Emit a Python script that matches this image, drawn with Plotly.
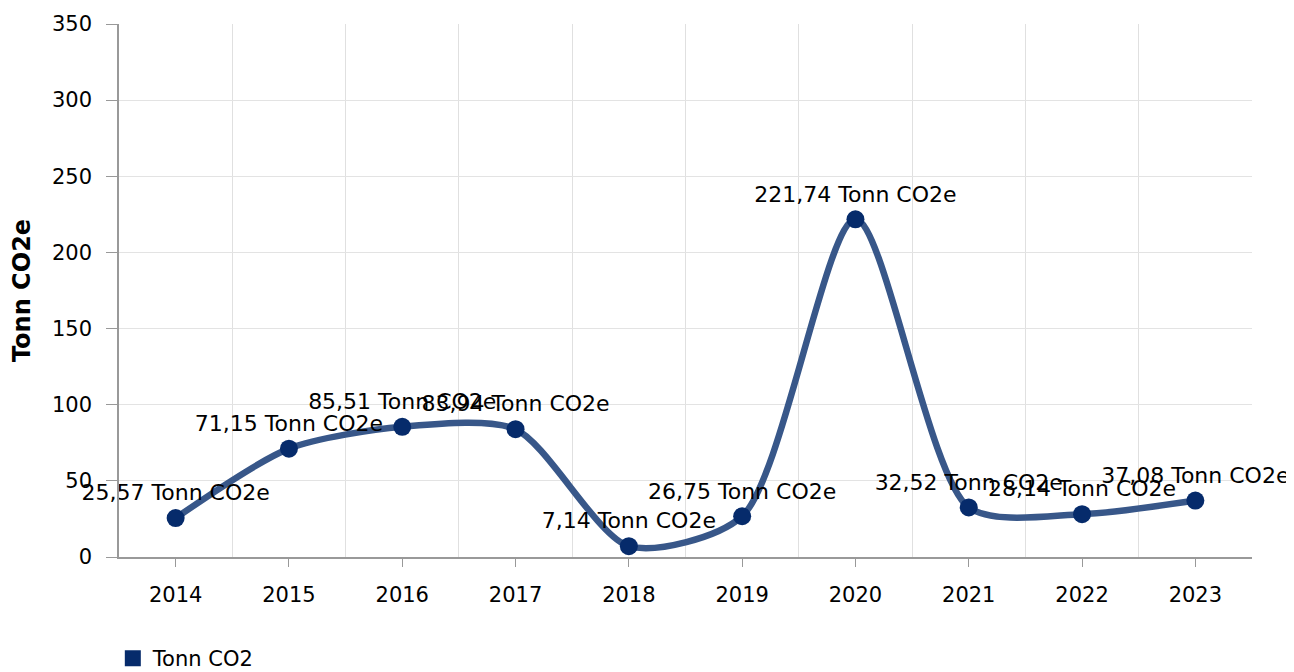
import plotly.graph_objects as go

years = [2014, 2015, 2016, 2017, 2018, 2019, 2020, 2021, 2022, 2023]
co2 = [25.57, 71.15, 85.51, 83.94, 7.14, 26.75, 221.74, 32.52, 28.14, 37.08]
unit = "Tonn CO2e"
legend_name = "Tonn CO2"

labels = [f"{v:.2f}".replace(".", ",") + " " + unit for v in co2]

font = "DejaVu Sans, Verdana, sans-serif"
line_color = "#385789"
marker_color = "#062b6b"

fig = go.Figure()

fig.add_trace(go.Scatter(
    x=years,
    y=co2,
    mode="lines+markers+text",
    line=dict(color=line_color, width=6.5, shape="spline", smoothing=0.75),
    marker=dict(color=marker_color, size=18),
    text=labels,
    textposition="top center",
    textfont=dict(family=font, size=22, color="#000"),
    cliponaxis=False,
    showlegend=False,
    hoverinfo="x+y",
))

# legend swatch only
fig.add_trace(go.Scatter(
    x=[None], y=[None],
    mode="markers",
    marker=dict(symbol="square", color=marker_color, size=16),
    name=legend_name,
))

# page body adds an 8px offset, margins compensate for it
fig.update_layout(
    width=1294,
    height=672,
    margin=dict(l=111, r=50, t=16, b=123),
    plot_bgcolor="white",
    paper_bgcolor="white",
    font=dict(family=font, size=21, color="#000"),
    showlegend=True,
    legend=dict(
        orientation="h",
        xref="container", yref="container",
        x=0.081, y=0.032,
        xanchor="left", yanchor="middle",
        font=dict(family=font, size=21, color="#000"),
    ),
)

fig.update_xaxes(
    automargin=False,
    range=[2013.5, 2023.5],
    tickmode="array",
    tickvals=years,
    ticktext=[str(y) for y in years],
    ticks="outside",
    ticklen=8,
    tickcolor="#999",
    ticklabelstandoff=10,
    showgrid=False,
    minor=dict(tick0=2013.5, dtick=1, showgrid=True, gridcolor="#e0e0e0", ticks=""),
    showline=True,
    linecolor="#999",
    linewidth=1.5,
    zeroline=False,
    tickfont=dict(size=21),
)

fig.update_yaxes(
    automargin=False,
    range=[0, 350],
    dtick=50,
    ticks="outside",
    ticklen=11,
    tickcolor="#999",
    ticklabelstandoff=10,
    showgrid=True,
    gridcolor="#e3e3e3",
    showline=True,
    linecolor="#999",
    linewidth=1.5,
    zeroline=False,
    tickfont=dict(size=21),
    title=dict(text="<b>Tonn CO2e</b>", font=dict(size=24), standoff=17),
)

fig.write_html("out.html")
